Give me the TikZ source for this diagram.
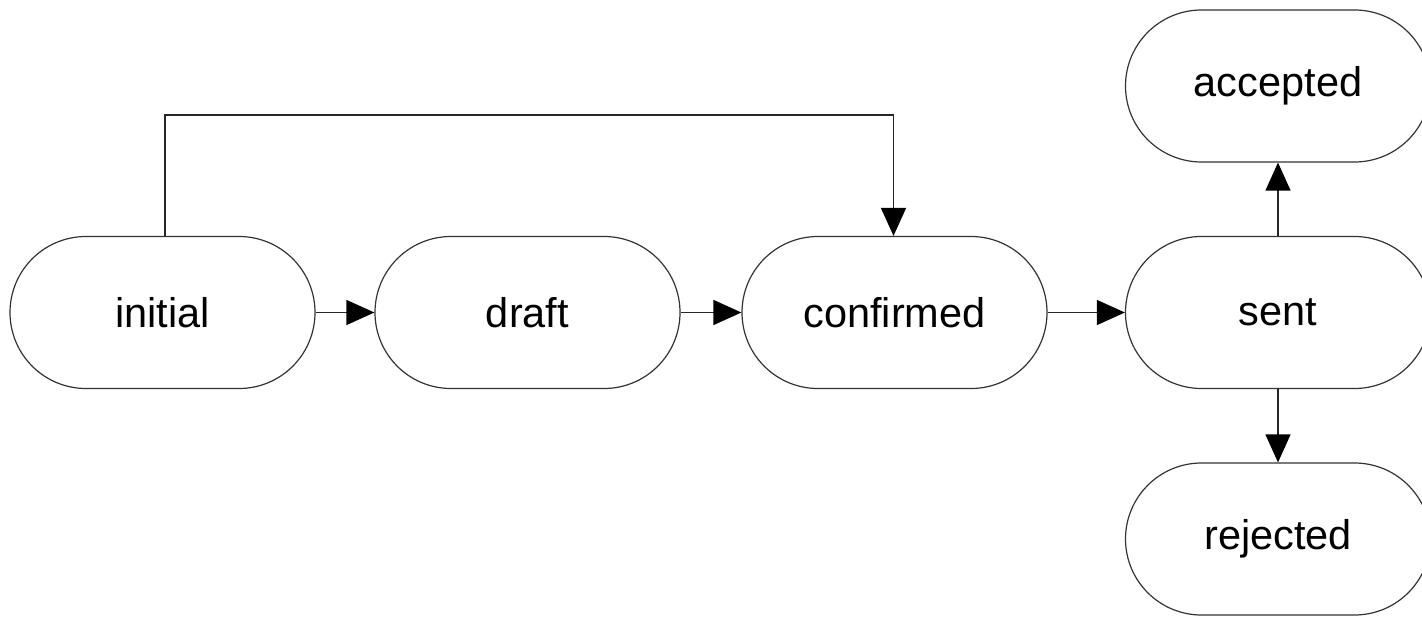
\documentclass[tikz,border=0pt]{standalone}
\usepackage{fontspec}
\setmainfont{Liberation Sans}
\usetikzlibrary{arrows.meta}
\begin{document}
\begin{tikzpicture}[x=1pt,y=-1pt,
  state/.style={draw=black!80,line width=1.2pt,rounded corners=76pt,minimum width=305pt,minimum height=152pt,inner sep=0pt,font=\fontsize{41.5}{48}\selectfont},
  conn/.style={draw=black!85,line width=1.3pt,-{Triangle[length=28pt,width=25pt,fill=black,color=black]}}]
\useasboundingbox (0,0) rectangle (1422,618);
\node[state] (initial) at (162.5,312.5) {initial};
\node[state] (draft) at (527.5,312.5) {draft};
\node[state] (confirmed) at (894.5,312.5) {confirmed};
\node[state] (sent) at (1278,312.5) {sent};
\node[state] (accepted) at (1278,86) {accepted};
\node[state] (rejected) at (1278,539) {rejected};
\coordinate (bend) at (0,115);
\draw[conn] (initial) -- (draft);
\draw[conn] (draft) -- (confirmed);
\draw[conn] (confirmed) -- (sent);
\draw[conn] (sent) -- (accepted);
\draw[conn] (sent) -- (rejected);
\draw[conn] ([xshift=2.5pt]initial.north) -- ([xshift=2.5pt]initial.north |- bend) -| ([xshift=-1pt]confirmed.north);
\end{tikzpicture}
\end{document}
